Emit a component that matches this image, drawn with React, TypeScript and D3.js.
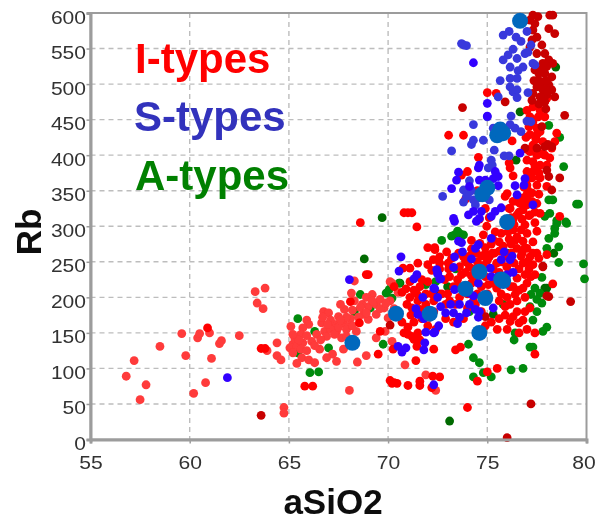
import React, { useEffect, useRef } from "react";
import * as d3 from "d3";

type Pt = [number, number];

const xTicks = [55, 60, 65, 70, 75, 80];
const yTicks = [0, 50, 100, 150, 200, 250, 300, 350, 400, 450, 500, 550, 600];

const legend = ["I-types", "S-types", "A-types"];

// values: [aSiO2, Rb]
const aDark: Pt[] = [
  [73.1, 26], [68.8, 254], [69.7, 312], [70.6, 220], [76.45, 393], [78, 213], [77.9, 213], [78.45, 524],
  [76.65, 461], [74.9, 195], [78.35, 262], [75.3, 176], [73.0, 215], [72.55, 205],
];
const aGreen: Pt[] = [
  [65.45, 170], [65.45, 122], [66.3, 152], [67, 129], [66.5, 95], [66.06, 94], [68.6, 204], [68.3, 180],
  [69.1, 185], [69.9, 206], [70.2, 199], [70.05, 211], [69.75, 134], [70.55, 220], [72.7, 280], [73.35, 288],
  [73.6, 290], [73.8, 288], [73.2, 286], [73.5, 293], [74.05, 134], [74.3, 115], [74.6, 108], [74.3, 88],
  [74.8, 94], [75.2, 88], [76.2, 98], [76.8, 100], [77.15, 130], [77.3, 130], [76.35, 140], [78.1, 442],
  [78.65, 425], [78.85, 384], [78.1, 337], [78.3, 337], [79.5, 331], [79.6, 331], [78.15, 318], [77.9, 314],
  [78.5, 308], [78.95, 306], [78.1, 283], [78.4, 290], [78.4, 297], [78.5, 304], [79, 304], [78, 269],
  [78.6, 271], [78.6, 249], [79.85, 247], [79.9, 226], [77.75, 228], [77.4, 213], [77.2, 204], [77.65, 206],
  [77.5, 197], [77.75, 192], [77.15, 187], [77.5, 180], [77.3, 168], [78, 158], [77.8, 152], [75.8, 190],
  [75.1, 258], [76.0, 262], [73.4, 240], [72.4, 222], [71.9, 218], [74.1, 180], [76.4, 150],
];
const iLight: Pt[] = [
  [56.8, 89], [57.2, 111], [57.8, 77], [57.5, 56], [58.5, 131], [59.6, 149], [59.8, 118], [60.2, 65],
  [60.4, 143], [60.5, 149], [60.8, 80], [61, 150], [61.1, 114], [61.5, 135], [61.6, 139], [62.5, 146],
  [63.3, 208], [63.8, 213], [63.4, 192], [63.7, 184], [63.9, 125], [64.4, 136], [64.4, 118], [64.6, 112],
  [64.75, 45], [64.75, 37], [65.1, 159], [65.9, 168], [66, 162], [65.7, 157], [65.6, 148], [65.2, 134],
  [65.05, 129], [65.4, 131], [65.7, 136], [65.6, 127], [65.65, 115], [66.15, 138], [66.4, 148], [66.65, 164],
  [66.75, 180], [67, 178], [66.8, 152], [66.9, 145], [66.55, 127], [66, 112], [66.3, 108], [67.2, 120],
  [67.4, 110], [67.3, 162], [67.5, 173], [67.8, 183], [67.75, 164], [68, 159], [67.4, 152], [67.65, 143],
  [67.9, 155], [68.15, 206], [68.4, 152], [68.3, 223], [69, 187], [68.75, 176], [69.2, 204], [69.4, 190],
  [69.6, 197], [69.4, 176], [69, 169], [70.2, 220], [70, 171], [69.4, 143], [69.85, 152], [68.9, 118],
  [68.45, 109], [67.75, 127], [70.2, 138], [70.85, 105], [68.05, 69], [71.9, 91], [72.4, 69], [67.1, 168],
  [67.6, 190], [68.3, 195], [68.7, 190], [69.8, 185], [70.1, 195], [65.3, 142], [65.9, 125], [66.6, 140],
  [67.1, 155], [68.1, 170], [68.9, 200], [70.5, 207], [70.1, 222], [65.2, 122], [65.5, 140], [65.9, 146],
  [66.3, 132], [66.7, 172], [66.95, 162], [67.3, 148], [67.5, 158], [67.9, 172], [68.2, 182], [68.5, 172],
  [68.6, 186], [68.9, 178], [69.2, 195], [69.6, 184], [69.9, 192], [70.3, 184], [68.2, 160], [67.9, 145],
  [67.6, 168], [66.9, 115], [65.4, 107], [65.2, 148],
];
const iRed: Pt[] = [
  [60.9, 157], [63.6, 128], [63.8, 128], [65.8, 75], [66.2, 75], [68.1, 194], [69, 232], [68.9, 232],
  [68.55, 164], [69.6, 152], [69.5, 120], [70.25, 127], [71.4, 111], [72.3, 127], [71.45, 131], [71.3, 141],
  [71, 148], [71, 319], [70.8, 319], [71.2, 319], [71.45, 299], [68.6, 305], [72, 270], [72.35, 270], [72.6, 257],
  [72, 246], [71.5, 248], [71.1, 241], [70.75, 241], [70.1, 83], [70.3, 80], [70.45, 79], [70.2, 79], [71, 76],
  [71.6, 82], [71.6, 76], [72.25, 89], [72.6, 88], [72.2, 73], [73.4, 126], [73.65, 130], [74.5, 82],
  [75, 95], [75.5, 100], [77.4, 120], [74, 45], [78.3, 219], [75, 488], [75.45, 487], [73.05, 428], [73.8, 428],
  [76.25, 420], [74.55, 397], [74, 377], [76.1, 389], [76.15, 382], [76.3, 371], [76, 346], [75.9, 342],
  [77.3, 447], [77.5, 438], [77.15, 429], [77.5, 429], [77.66, 433], [77.8, 419], [77.3, 414], [77.15, 405],
  [77.5, 400], [77, 393], [77.3, 391], [77.66, 386], [77, 377], [77.3, 377], [77.15, 368], [77.66, 368],
  [77, 358], [77.5, 358], [77.25, 347], [77, 339], [76.65, 332], [76.3, 335], [76.15, 325], [76.8, 323],
  [76.5, 316], [77.5, 332], [77.15, 316], [77.66, 318], [78.5, 431], [78.4, 419], [78.25, 410], [78, 386],
  [78, 356], [77.9, 400], [78.15, 396], [78.65, 314], [77.3, 468], [77, 463], [77.15, 454], [77.66, 463],
  [78, 480], [77.57, 454], [77.9, 454], [74.97, 300], [74.8, 288], [74.63, 276], [74.9, 262], [74.46, 262],
  [73.8, 257], [72.95, 264], [72.36, 267], [72.28, 253], [72.6, 248], [73.03, 248], [73.6, 243], [74.1, 243],
  [73.7, 232], [73.1, 229], [74.46, 229], [74.9, 229], [75.1, 257], [75.47, 248], [75.98, 243], [75.3, 281],
  [75.7, 290], [76.3, 295], [76.9, 302], [77, 290], [77.5, 293], [76.8, 279], [76.5, 269], [77, 269],
  [77.15, 257], [77.5, 262], [78, 260], [76.8, 248], [77.3, 246], [76.9, 232], [76.5, 227], [77.2, 229],
  [76.8, 213], [76.4, 204], [76.15, 215], [75.47, 213], [75.05, 218], [74.4, 190], [76.15, 190], [75.9, 187],
  [77.15, 185], [76.9, 180], [76.3, 173], [76.15, 166], [76.6, 164], [76.8, 168], [73.3, 215], [72.85, 225],
  [73.5, 225], [74.2, 220], [74.7, 215], [73.9, 235], [74.3, 240], [74.8, 245], [75.3, 240], [75.6, 235],
  [75.3, 220], [75.7, 205], [76, 200], [76.5, 195], [76.9, 200], [75, 205], [74.3, 195], [73.6, 200], [73, 205],
  [72.9, 190], [73.4, 190], [74, 185], [74.7, 180], [75.6, 170], [75.2, 165], [76, 155], [76.6, 150], [77, 155],
  [77.4, 150], [75.5, 155], [74.9, 160], [73.8, 170], [73.3, 165], [72.9, 170], [72.3, 180], [71.9, 190],
  [71.5, 195], [71.2, 185], [71.7, 170], [71.3, 165], [71, 158], [71.5, 150], [72, 160], [72.4, 155], [71.2, 145],
  [71.6, 140], [70.8, 150], [75.7, 250], [76.2, 262], [76.6, 240], [77, 250], [77.6, 255], [75.6, 265], [75.2, 275],
  [74.2, 280], [74.9, 270], [73.9, 250], [75.4, 292], [76.4, 280], [76.7, 295], [76.3, 310], [75.9, 305],
  [76.6, 320], [77.1, 315], [76.1, 325], [76.5, 335], [77, 330], [77.4, 320], [77, 345], [76.2, 312],
  [70.9, 212], [71.3, 210], [71.6, 215], [72, 222], [71.1, 200], [70.7, 207], [71.9, 205], [70.3, 215], [72.3, 195],
  [72.7, 205], [74.6, 310], [75.1, 312], [74.9, 325], [73.9, 338], [74.5, 350], [73.7, 372], [74.1, 258],
  [74.5, 250], [75.0, 252], [75.35, 262], [75.8, 272], [76.1, 282], [75.9, 258], [76.35, 248], [76.7, 258],
  [76.9, 270], [77.3, 278], [77.4, 305], [77.25, 335], [76.8, 340], [76.85, 355], [77.25, 368], [77.4, 385],
  [77, 408], [77.45, 422], [76.95, 425], [77.1, 440], [76.75, 310], [76.35, 302], [76.05, 292], [75.6, 278],
  [75.25, 262], [74.7, 258], [74.2, 268], [73.55, 262], [73.05, 240], [72.6, 240], [72.2, 238], [73.2, 255],
  [75.9, 225], [76.3, 215], [76.6, 210], [77, 220], [77.1, 240], [77.4, 232], [76.1, 235], [75.6, 195],
  [75.9, 175], [76.5, 180], [72.2, 205], [71.7, 225], [71.1, 222], [71.45, 205], [70.95, 190], [71.6, 183],
  [72.1, 172], [71.15, 175], [70.7, 165], [73.6, 215], [74.0, 205], [74.5, 205], [73.1, 195], [74.2, 230],
  [76.2, 275], [76.5, 285], [76.75, 262], [77.3, 262], [77.05, 350], [77.6, 345], [77.6, 375], [77.75, 402],
];
const iDark: Pt[] = [
  [63.6, 34], [77.2, 50], [76, 2.5], [79.2, 194], [78, 202], [77.8, 244], [73.75, 467], [75.9, 475],
  [77.3, 597], [77.55, 595], [78.15, 597], [78.3, 597], [78.1, 578], [78.4, 571], [77.3, 576], [77.5, 566],
  [77.25, 562], [77.15, 552], [77.75, 555], [77.9, 543], [77.5, 543], [78.1, 534], [77.8, 529], [78.3, 529],
  [77.57, 506], [77.9, 515], [78.25, 510], [77.8, 503], [78.1, 499], [77.5, 496], [77.8, 492], [78.25, 492],
  [78, 485], [77.66, 482], [77.3, 487], [78.4, 482], [77.9, 475], [77.9, 412], [78.25, 412], [76.9, 410],
  [77.5, 410], [78.1, 370], [78.65, 368], [78.25, 351], [78.9, 456], [78, 379], [70.1, 161], [77.8, 243],
  [78.1, 201], [74.9, 173], [77.4, 585], [77.15, 590], [77.65, 520], [77.4, 520], [78, 525], [77.95, 505],
  [77.6, 515], [77.35, 505], [78.05, 490], [77.6, 472], [77.25, 477], [77.95, 465], [77.75, 440], [78.05, 415],
];
const sRoyal: Pt[] = [
  [73.7, 557], [73.8, 555], [73.95, 554], [75.8, 569], [76.1, 574], [77, 574], [76.45, 566], [76.7, 560],
  [76.3, 549], [77.2, 555], [76.05, 541], [75.8, 534], [76.5, 536], [76.9, 543], [77.05, 545], [76.15, 524],
  [76.8, 524], [76.55, 519], [77.3, 529], [77.4, 527], [75.65, 505], [76.15, 508], [76.5, 508], [76.15, 496],
  [76.3, 489], [76.5, 492], [75.55, 482], [76.5, 481], [77.05, 488], [76.2, 455], [75, 454], [74.3, 443],
  [73.2, 406], [74.8, 421], [74.3, 421], [74.2, 415], [75.3, 438], [76.15, 443], [76.4, 438], [76.7, 433],
  [77, 448], [77.2, 447], [75.35, 407], [75.85, 399], [76.1, 399], [75.2, 393], [75.25, 386], [75.05, 382],
  [72.75, 342], [74.1, 364], [73.8, 351], [74.05, 347], [73.8, 334], [74.3, 337], [74.6, 340], [75.1, 337],
  [73.95, 342], [74.4, 330], [74.2, 350],
];
const sBlue: Pt[] = [
  [61.9, 87], [74.3, 530], [75, 473], [75, 455], [76.65, 403], [74.6, 386], [74.55, 382], [75.4, 377],
  [75.55, 370], [75.3, 367], [73.55, 376], [73.45, 365], [73.2, 353], [74.1, 356], [74.6, 365], [74.9, 365],
  [75.55, 357], [76.4, 357], [76.85, 358], [76.9, 367], [76.5, 344], [77.3, 330], [75.7, 326], [75.4, 321],
  [75.2, 314], [74.3, 321], [74.7, 321], [74.05, 316], [74.6, 311], [73.3, 311], [73.35, 307], [74.45, 307],
  [73.55, 279], [73.7, 277], [73.75, 264], [73.35, 257], [74.2, 254], [74.55, 274], [74.4, 269], [75.2, 283],
  [73.3, 242], [72.5, 234], [72.6, 226], [72.35, 212], [72.5, 200], [73.35, 211], [73.95, 213], [74.1, 206],
  [74.3, 202], [74.55, 220], [75.15, 241], [75.2, 229], [75.55, 229], [75.85, 264], [76.25, 258], [75.7, 253],
  [76.15, 253], [76.3, 235], [76, 232], [75.9, 222], [74.7, 201], [74.9, 197], [75.3, 185], [74.6, 180],
  [74.4, 183], [73.95, 178], [73.6, 190], [73.15, 190], [72.65, 187], [72.9, 178], [73.3, 178], [73.6, 172],
  [74.55, 172], [74.1, 190], [73.5, 163], [72.55, 160], [68.05, 225], [70.65, 257], [70.55, 237], [71.45, 232],
  [71.3, 226], [72.45, 239], [72.5, 233], [72.65, 226], [72.3, 213], [71.75, 200], [71.4, 184], [71.5, 176],
  [71.8, 170], [72.0, 178], [71.9, 151], [72.3, 150], [70.5, 131], [70.9, 129], [70.7, 123], [71.8, 126],
  [71.85, 136], [72.35, 151], [72.3, 77],
];
const bigDots: Pt[] = [
  [68.2, 136], [70.4, 177], [72.1, 177], [74.6, 150], [74.6, 236], [73.9, 212], [74.9, 199], [75.7, 225],
  [75.8, 223], [76, 306], [75.5, 428], [75.8, 431], [75.65, 436], [75, 354], [74.75, 345], [76.65, 589],
];

const groups: { data: Pt[]; color: string; r: number }[] = [
  { data: aDark, color: "#006a00", r: 4.4 },
  { data: aGreen, color: "#008a0a", r: 4.4 },
  { data: iLight, color: "#ff3a3a", r: 4.4 },
  { data: iRed, color: "#ff0000", r: 4.4 },
  { data: iDark, color: "#c80000", r: 4.4 },
  { data: sRoyal, color: "#3838dc", r: 4.4 },
  { data: sBlue, color: "#3300ff", r: 4.4 },
  { data: bigDots, color: "#0668bd", r: 8 },
];

const legendColors = ["#ff0000", "#3232bc", "#058005"];
const legendBase = [73, 131, 190];
const legendX = [135, 134, 135];

const W = 596;
const H = 516;

export default function App() {
  const ref = useRef<SVGSVGElement>(null);

  useEffect(() => {
    const svg = d3.select(ref.current);
    svg.selectAll("*").remove();

    const x = d3.scaleLinear().domain([55, 80]).range([90.5, 586.5]);
    const y = d3.scaleLinear().domain([0, 600]).range([439.5, 13]);

    svg
      .append("defs")
      .append("filter")
      .attr("id", "soft")
      .append("feGaussianBlur")
      .attr("stdDeviation", 0.55);

    const root = svg.append("g").attr("filter", "url(#soft)");
    root.append("rect").attr("width", W).attr("height", H).attr("fill", "#fff");

    // grid
    const grid = root
      .append("g")
      .attr("stroke", "#bdbdbd")
      .attr("stroke-width", 1.4)
      .attr("stroke-dasharray", "5,4");
    grid
      .selectAll("line.v")
      .data(xTicks.slice(1, -1))
      .join("line")
      .attr("x1", d => x(d))
      .attr("x2", d => x(d))
      .attr("y1", y(600))
      .attr("y2", y(0));
    grid
      .selectAll("line.h")
      .data(yTicks.slice(1, -1))
      .join("line")
      .attr("class", "h")
      .attr("x1", x(55))
      .attr("x2", x(80))
      .attr("y1", d => y(d))
      .attr("y2", d => y(d));

    // frame
    root
      .append("rect")
      .attr("x", x(55))
      .attr("y", y(600))
      .attr("width", x(80) - x(55))
      .attr("height", y(0) - y(600))
      .attr("fill", "none")
      .attr("stroke", "#9c9c9c")
      .attr("stroke-width", 2);

    // points
    groups.forEach(g => {
      root
        .append("g")
        .attr("fill", g.color)
        .selectAll("circle")
        .data(g.data)
        .join("circle")
        .attr("cx", d => x(d[0]))
        .attr("cy", d => y(d[1]))
        .attr("r", g.r);
    });

    // axes
    const yAxis = root
      .append("g")
      .attr("transform", `translate(${x(55)},0)`)
      .call(d3.axisLeft(y).tickValues(yTicks).tickSize(4).tickFormat(d3.format("d")));
    const xAxis = root
      .append("g")
      .attr("transform", `translate(0,${y(0)})`)
      .call(d3.axisBottom(x).tickValues(xTicks).tickSize(4).tickFormat(d3.format("d")));

    [yAxis, xAxis].forEach(a => {
      a.select(".domain").attr("stroke", "#9c9c9c").attr("stroke-width", 3);
      a.selectAll(".tick line").attr("stroke", "#9c9c9c").attr("stroke-width", 1.5);
      a.selectAll("text")
        .attr("font-family", "'Liberation Sans', Arial, sans-serif")
        .attr("font-size", 18)
        .attr("fill", "#333")
        .attr("lengthAdjust", "spacingAndGlyphs");
    });
    yAxis
      .selectAll<SVGTextElement, number>("text")
      .attr("x", -4.5)
      .attr("dy", 0)
      .attr("y", 10)
      .attr("textLength", d => String(d).length * 11.7);
    xAxis
      .selectAll<SVGTextElement, number>("text")
      .attr("y", 29)
      .attr("dy", 0)
      .attr("textLength", 23.5);
    // last x label sits just inside the right edge in the reference
    xAxis
      .selectAll<SVGTextElement, number>("text")
      .filter(d => d === 80)
      .attr("x", -3);

    // legend
    root
      .append("g")
      .attr("font-family", "'Liberation Sans', Arial, sans-serif")
      .attr("font-weight", "bold")
      .attr("font-size", 42)
      .selectAll("text")
      .data(legend)
      .join("text")
      .attr("x", (_, i) => legendX[i])
      .attr("y", (_, i) => legendBase[i])
      .attr("fill", (_, i) => legendColors[i])
      .text(d => d);

    // axis titles
    root
      .append("text")
      .attr("transform", "translate(41,232) rotate(-90)")
      .attr("text-anchor", "middle")
      .attr("font-family", "'Liberation Sans', Arial, sans-serif")
      .attr("font-weight", "bold")
      .attr("font-size", 35)
      .attr("fill", "#111")
      .text("Rb");
    root
      .append("text")
      .attr("x", 333)
      .attr("y", 514)
      .attr("text-anchor", "middle")
      .attr("font-family", "'Liberation Sans', Arial, sans-serif")
      .attr("font-weight", "bold")
      .attr("font-size", 35)
      .attr("fill", "#111")
      .text("aSiO2");
  }, []);

  return (
    <svg
      ref={ref}
      width={W}
      height={H}
      style={{ position: "absolute", left: 0, top: 0, display: "block" }}
    />
  );
}
